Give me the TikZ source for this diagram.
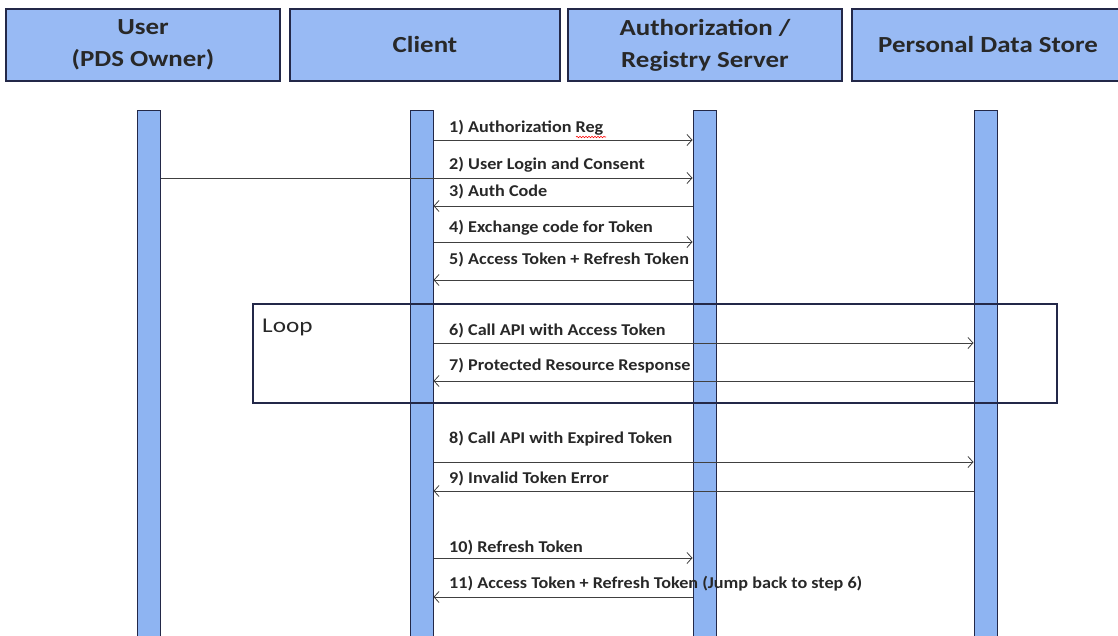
\documentclass[tikz,border=0pt]{standalone}
\usepackage{fontspec}
\setmainfont{Carlito}
\newfontfamily\headfont[FakeStretch=1.17]{Carlito}
\newfontfamily\lblfont[FakeStretch=1.1]{Carlito}
\newfontfamily\loopfont[FakeStretch=1.2]{Carlito}
\usetikzlibrary{arrows.meta,decorations.pathmorphing}
\definecolor{boxblue}{RGB}{152,186,244}
\definecolor{barblue}{RGB}{142,180,242}
\definecolor{navy}{RGB}{35,40,72}
\definecolor{inkgray}{RGB}{40,40,40}
\tikzset{
  head/.style={draw=navy, line width=2pt, fill=boxblue, minimum height=72pt,
    align=center, text=inkgray, font=\headfont\bfseries\fontsize{23}{32}\selectfont},
  lifebar/.style={draw=navy, line width=1pt, fill=barblue, minimum width=23pt,
    minimum height=540pt, anchor=north},
  msg/.style={draw=black!75, line width=0.8pt, -{Straight Barb[length=5pt,width=11pt]}},
  lbl/.style={anchor=base west, inner sep=0pt, text=inkgray,
    font=\lblfont\bfseries\fontsize{16.5}{18}\selectfont}
}
\begin{document}
\begin{tikzpicture}[x=1pt, y=-1pt]
\useasboundingbox[fill=white] (0,0) rectangle (1118,636);
% header boxes
\node[head, minimum width=274pt] (user)   at (143,45) {User\\(PDS Owner)};
\node[head, minimum width=270pt] (client) at (425,45) {Client};
\node[head, minimum width=274pt] (auth)   at (705,45) {Authorization /\\Registry Server};
\node[head, minimum width=272pt] (pds)    at (988,45) {Personal Data Store};
% life lines
\node[lifebar] (userline)   at (148.5,110) {};
\node[lifebar] (clientline) at (421.5,110) {};
\node[lifebar] (authline)   at (704.5,110) {};
\node[lifebar] (pdsline)    at (985.5,110) {};
% loop frame
\draw[navy, line width=2pt] (253,304) rectangle (1057,403);
\node[anchor=base west, inner sep=0pt, text=inkgray, font=\loopfont\fontsize{21}{26}\selectfont]
  (looplbl) at (262,332) {Loop};
% messages
\draw[msg] (clientline.east |- 0,140) -- (authline.west |- 0,140);
\node[lbl] (m1) at (449,133) {1) Authorization Reg};
\draw[red, line width=0.6pt, decorate, decoration={snake, amplitude=0.7pt, segment length=3pt}]
  (576,137) -- (606,137);
\draw[msg] (userline.east |- 0,178) -- (authline.west |- 0,178);
\node[lbl] (m2) at (449,170) {2) User Login and Consent};
\draw[msg] (authline.west |- 0,206) -- (clientline.east |- 0,206);
\node[lbl] (m3) at (449,197) {3) Auth Code};
\draw[msg] (clientline.east |- 0,242) -- (authline.west |- 0,242);
\node[lbl] (m4) at (449,233) {4) Exchange code for Token};
\draw[msg] (authline.west |- 0,280) -- (clientline.east |- 0,280);
\node[lbl] (m5) at (449,265) {5) Access Token + Refresh Token};
\draw[msg] (clientline.east |- 0,343) -- (pdsline.west |- 0,343);
\node[lbl] (m6) at (449,335) {6) Call API with Access Token};
\draw[msg] (pdsline.west |- 0,381) -- (clientline.east |- 0,381);
\node[lbl] (m7) at (449,370) {7) Protected Resource Response};
\draw[msg] (clientline.east |- 0,462) -- (pdsline.west |- 0,462);
\node[lbl] (m8) at (449,443) {8) Call API with Expired Token};
\draw[msg] (pdsline.west |- 0,491) -- (clientline.east |- 0,491);
\node[lbl] (m9) at (449,483) {9) Invalid Token Error};
\draw[msg] (clientline.east |- 0,558) -- (authline.west |- 0,558);
\node[lbl] (m10) at (449,552) {10) Refresh Token};
\draw[msg] (authline.west |- 0,597) -- (clientline.east |- 0,597);
\node[lbl] (m11) at (449,588) {11) Access Token + Refresh Token (Jump back to step 6)};
\end{tikzpicture}
\end{document}
